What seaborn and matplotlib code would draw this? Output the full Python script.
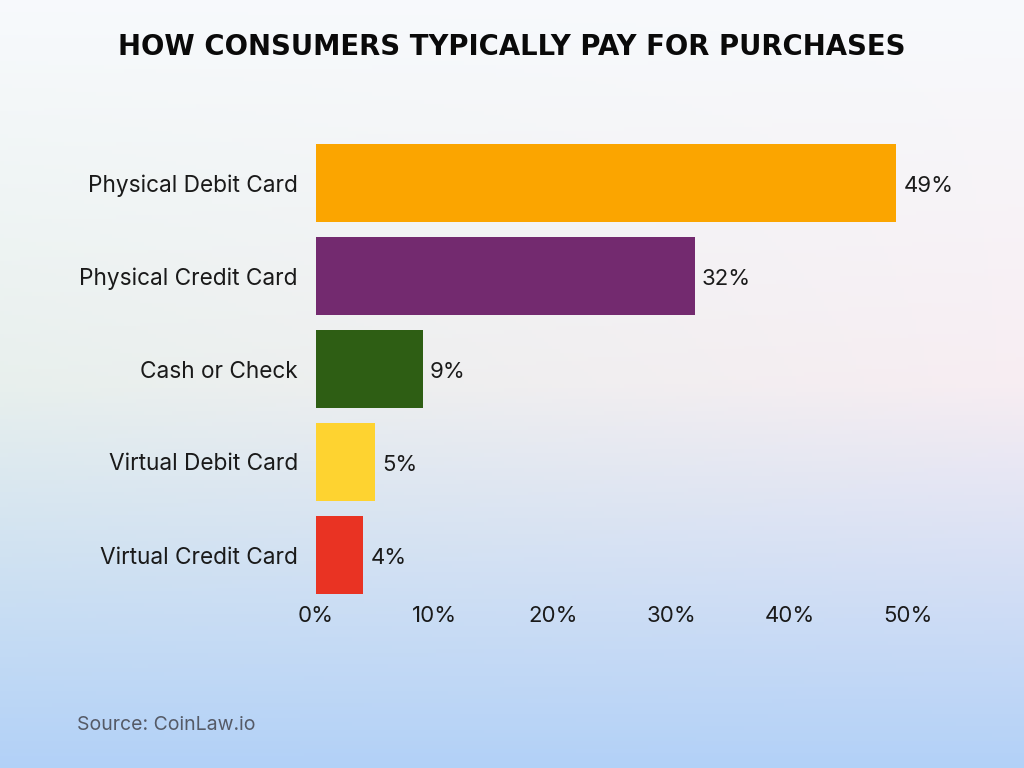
import numpy as np
import pandas as pd
import matplotlib
matplotlib.use("Agg")
import matplotlib.pyplot as plt
import seaborn as sns

# chart data
methods = ["Physical Debit Card", "Physical Credit Card", "Cash or Check",
           "Virtual Debit Card", "Virtual Credit Card"]
shares = [49, 32, 9, 5, 4]
bar_colors = ["#FBA500", "#732A6F", "#2E5E14", "#FED330", "#E93323"]
x_ticks = [0, 10, 20, 30, 40, 50]

df = pd.DataFrame({"method": methods, "share": shares})

sns.set_theme(style="white")
plt.rcParams["font.family"] = ["Inter", "DejaVu Sans"]

fig = plt.figure(figsize=(10.24, 7.68), dpi=100)

# soft pastel gradient background
bg = fig.add_axes([0, 0, 1, 1], zorder=-10)
h, w = 200, 256
yy, xx = np.mgrid[0:1:h * 1j, 0:1:w * 1j]
top = np.array([0.97, 0.98, 0.99])
mid_l = np.array([0.91, 0.94, 0.93])
mid_r = np.array([0.97, 0.93, 0.95])
bot = np.array([0.70, 0.82, 0.97])
mid = mid_l[None, None, :] * (1 - xx[..., None]) + mid_r[None, None, :] * xx[..., None]
t = yy[..., None]
img = np.where(t < 0.5,
               top * (1 - t / 0.5) + mid * (t / 0.5),
               mid * (1 - (t - 0.5) / 0.5) + bot * ((t - 0.5) / 0.5))
bg.imshow(np.clip(img, 0, 1), aspect="auto", extent=[0, 1, 1, 0])
bg.axis("off")

ax = fig.add_axes([316 / 1024, 1 - 601.5 / 768, 592 / 1024, 465 / 768])
ax.patch.set_alpha(0)
sns.barplot(data=df, x="share", y="method", hue="method", palette=bar_colors,
            legend=False, width=0.84, saturation=1, linewidth=0, ax=ax)

ax.set_xlim(0, 50)
ax.set_ylim(4.5, -0.5)
ax.set_xticks(x_ticks)
ax.set_xticklabels([f"{v}%" for v in x_ticks])
ax.set_xlabel("")
ax.set_ylabel("")
ax.tick_params(axis="x", length=0, pad=3, labelsize=16, labelcolor="#1a1a1a")
ax.tick_params(axis="y", length=0, pad=13, labelsize=16.3, labelcolor="#1a1a1a")
sns.despine(ax=ax, left=True, bottom=True)

for i, v in enumerate(shares):
    ax.text(v + 0.6, i + 0.03, f"{v}%", va="center", ha="left",
            fontsize=16, color="#1a1a1a", clip_on=False)

fig.text(0.5, 1 - 47 / 768, "HOW CONSUMERS TYPICALLY PAY FOR PURCHASES",
         ha="center", va="center", fontsize=19.8, fontweight="heavy",
         family=["DejaVu Sans"], color="#0a0a0a")

fig.text(77 / 1024, 1 - 725 / 768, "Source: CoinLaw.io", ha="left", va="center",
         fontsize=14, color="#555a66")

fig.savefig("out.png", dpi=100)
